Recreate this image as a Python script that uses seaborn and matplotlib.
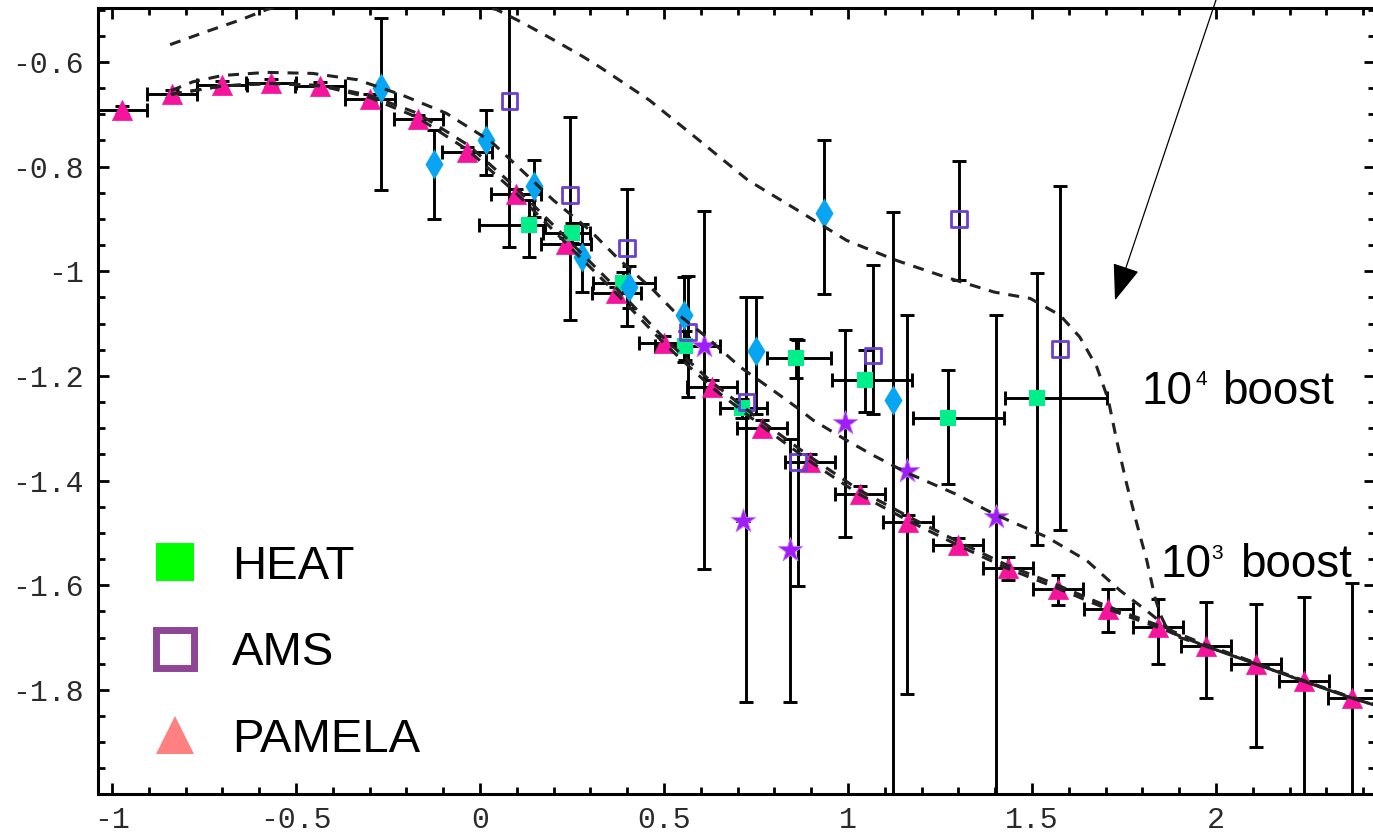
import numpy as np
import matplotlib
matplotlib.use("Agg")
import matplotlib.pyplot as plt
import seaborn as sns
from matplotlib.lines import Line2D
from matplotlib.ticker import MultipleLocator, FuncFormatter

# ---------------- data ----------------
# PAMELA positron fraction (log10), bin centres and bin edges in log10(E)
pamela_x = [-0.973, -0.837, -0.701, -0.568, -0.435, -0.299, -0.168, -0.035, 0.098,
            0.234, 0.370, 0.500, 0.630, 0.766, 0.897, 1.033, 1.163, 1.299, 1.435,
            1.571, 1.707, 1.842, 1.973, 2.109, 2.239, 2.370]
pamela_y = [-0.692, -0.661, -0.645, -0.640, -0.647, -0.670, -0.709, -0.772, -0.853,
            -0.948, -1.042, -1.138, -1.222, -1.299, -1.365, -1.426, -1.480, -1.524,
            -1.568, -1.607, -1.645, -1.680, -1.716, -1.750, -1.783, -1.815]
pamela_halfbin = [0.067] * 26
pamela_err_dn = [0.008, 0.008, 0.008, 0.008, 0.008, 0.008, 0.008, 0.010, 0.010,
                 0.012, 0.012, 0.015, 0.015, 0.015, 0.015, 0.015, 0.015, 0.015,
                 0.022, 0.030, 0.045, 0.070, 0.100, 0.160, 0.600, 0.700]
pamela_err_up = [0.008, 0.008, 0.008, 0.008, 0.008, 0.008, 0.008, 0.010, 0.010,
                 0.012, 0.012, 0.015, 0.015, 0.015, 0.015, 0.015, 0.015, 0.015,
                 0.022, 0.026, 0.038, 0.054, 0.083, 0.115, 0.160, 0.220]

# HEAT
heat_x = [0.134, 0.249, 0.388, 0.557, 0.713, 0.859, 1.045, 1.271, 1.513]
heat_y = [-0.912, -0.927, -1.022, -1.142, -1.262, -1.166, -1.207, -1.280, -1.242]
heat_xlo = [-0.002, 0.172, 0.308, 0.476, 0.652, 0.781, 0.956, 1.177, 1.427]
heat_xhi = [0.177, 0.300, 0.476, 0.651, 0.781, 0.955, 1.173, 1.424, 1.703]
heat_ylo = [-0.973, -0.947, -1.042, -1.170, -1.280, -1.205, -1.269, -1.406, -1.523]
heat_yhi = [-0.864, -0.907, -1.002, -1.115, -1.245, -1.130, -1.151, -1.188, -1.003]

# AMS
ams_x = [0.080, 0.245, 0.400, 0.566, 0.724, 0.865, 1.069, 1.302, 1.576]
ams_y = [-0.674, -0.854, -0.956, -1.116, -1.250, -1.365, -1.161, -0.901, -1.148]
ams_ylo = [-0.953, -1.094, -1.105, -1.240, -1.824, -1.601, -1.272, -1.017, -1.494]
ams_yhi = [-0.300, -0.705, -0.842, -1.010, -1.049, -1.132, -0.989, -0.789, -0.837]

# other experiment (diamonds)
dia_x = [-0.270, -0.125, 0.017, 0.146, 0.276, 0.406, 0.553, 0.749, 0.936, 1.121]
dia_y = [-0.650, -0.795, -0.750, -0.838, -0.973, -1.030, -1.084, -1.152, -0.888, -1.247]
dia_ylo = [-0.845, -0.900, -0.816, -0.896, -1.040, -1.070, -1.174, -1.272, -1.044, -3.000]
dia_yhi = [-0.516, -0.730, -0.692, -0.788, -0.910, -0.990, -1.011, -1.049, -0.749, -0.887]

# other experiment (stars)
star_x = [0.610, 0.715, 0.843, 0.992, 1.160, 1.401]
star_y = [-1.142, -1.478, -1.532, -1.290, -1.381, -1.470]
star_ylo = [-1.569, -1.478, -1.824, -1.507, -1.808, -3.000]
star_yhi = [-0.885, -1.478, -1.320, -1.113, -1.084, -1.084]

# model curves
bg_x = [-0.84, -0.70, -0.57, -0.43, -0.30, -0.17, -0.03, 0.10, 0.235, 0.37, 0.50, 0.63,
        0.77, 0.90, 1.03, 1.17, 1.30, 1.43, 1.57, 1.70, 1.84, 1.97, 2.11, 2.24, 2.37, 2.44]
bg_y = [-0.662, -0.646, -0.641, -0.646, -0.668, -0.706, -0.770, -0.852, -0.947, -1.042,
        -1.138, -1.222, -1.298, -1.365, -1.426, -1.479, -1.524, -1.567, -1.606, -1.644,
        -1.680, -1.715, -1.750, -1.783, -1.815, -1.830]
alt_y = [-0.662, -0.646, -0.641, -0.645, -0.664, -0.698, -0.760, -0.842, -0.937, -1.032,
         -1.128, -1.212, -1.289, -1.356, -1.418, -1.471, -1.517, -1.561, -1.600, -1.639,
         -1.676, -1.713, -1.749, -1.783, -1.815, -1.830]

b3_x = [-0.84, -0.78, -0.70, -0.58, -0.455, -0.334, -0.213, -0.092, 0.03, 0.199, 0.299,
        0.371, 0.471, 0.525, 0.616, 0.707, 0.797, 0.86, 0.906, 0.996, 1.069, 1.16, 1.29,
        1.40, 1.54, 1.649, 1.739, 1.812, 1.902, 1.97, 2.11, 2.24, 2.37, 2.44]
b3_y = [-0.655, -0.638, -0.626, -0.620, -0.622, -0.634, -0.663, -0.698, -0.752, -0.864,
        -0.922, -0.973, -1.036, -1.075, -1.126, -1.183, -1.228, -1.260, -1.285, -1.323,
        -1.352, -1.385, -1.425, -1.465, -1.508, -1.553, -1.610, -1.649, -1.700, -1.716,
        -1.751, -1.784, -1.816, -1.831]

b4_x = [-0.842, -0.743, -0.652, -0.58, -0.45, -0.27, -0.10, 0.045, 0.118, 0.208, 0.28,
        0.326, 0.46, 0.594, 0.728, 0.862, 0.996, 1.130, 1.264, 1.398, 1.495, 1.576, 1.63,
        1.676, 1.707, 1.73, 1.757, 1.785, 1.812, 1.834, 1.848, 1.87, 1.97, 2.11, 2.24,
        2.37, 2.44]
b4_y = [-0.567, -0.542, -0.520, -0.500, -0.475, -0.462, -0.475, -0.500, -0.526, -0.561,
        -0.590, -0.610, -0.673, -0.749, -0.826, -0.883, -0.941, -0.979, -1.011, -1.040,
        -1.052, -1.084, -1.126, -1.183, -1.245, -1.323, -1.406, -1.483, -1.553, -1.623,
        -1.655, -1.688, -1.716, -1.751, -1.784, -1.816, -1.831]

legend_labels = ["HEAT", "AMS", "PAMELA"]

# ---------------- style ----------------
sns.set_theme(style="ticks")
plt.rcParams["font.family"] = ["Liberation Sans", "DejaVu Sans"]
plt.rcParams["axes.unicode_minus"] = False

PINK = "#f7149c"
GREEN = "#00ef8b"
AMS_C = "#6a40d2"
BLUE = "#08a6f2"
STAR = "#a01ef5"
CURVE = "#222222"
DASH = (0, (3.6, 2.9))

fig = plt.figure(figsize=(13.73, 8.34), dpi=100)
ax = fig.add_axes([98 / 1373, 40 / 834, 1277 / 1373, 786 / 834])
ax.set_xlim(-1.038, 2.432)
ax.set_ylim(-1.999, -0.497)


def asym(c, lo, hi):
    c = np.asarray(c, float)
    return [c - np.asarray(lo, float), np.asarray(hi, float) - c]


bar_kw = dict(fmt="none", ecolor="black", elinewidth=2.1, capsize=4.8, capthick=2.1, zorder=2)

ax.errorbar(pamela_x, pamela_y, yerr=[pamela_err_dn, pamela_err_up], xerr=pamela_halfbin, **bar_kw)
ax.errorbar(heat_x, heat_y, yerr=asym(heat_y, heat_ylo, heat_yhi),
            xerr=asym(heat_x, heat_xlo, heat_xhi), **bar_kw)
ax.errorbar(ams_x, ams_y, yerr=asym(ams_y, ams_ylo, ams_yhi), **bar_kw)
ax.errorbar(dia_x, dia_y, yerr=asym(dia_y, dia_ylo, dia_yhi), **bar_kw)
ax.errorbar(star_x, star_y, yerr=asym(star_y, star_ylo, star_yhi), **bar_kw)

# markers
sns.scatterplot(x=pamela_x, y=pamela_y, marker="^", s=210, color=PINK, edgecolor=PINK,
                linewidth=0.5, ax=ax, zorder=3, legend=False)
sns.scatterplot(x=heat_x, y=heat_y, marker="s", s=125, color=GREEN, edgecolor=GREEN,
                linewidth=0, ax=ax, zorder=3, legend=False)
sns.scatterplot(x=ams_x, y=ams_y, marker="s", s=130, facecolor="none", edgecolor=AMS_C,
                linewidth=2.0, ax=ax, zorder=3, legend=False)
sns.scatterplot(x=dia_x, y=dia_y, marker="d", s=235, color=BLUE, edgecolor=BLUE,
                linewidth=0, ax=ax, zorder=3, legend=False)
sns.scatterplot(x=star_x, y=star_y, marker="*", s=340, color=STAR, edgecolor="#c77dff",
                linewidth=0.6, ax=ax, zorder=3, legend=False)

# model curves
for cx, cy in [(bg_x, bg_y), (bg_x, alt_y), (b3_x, b3_y), (b4_x, b4_y)]:
    sns.lineplot(x=cx, y=cy, sort=False, estimator=None, ax=ax, color=CURVE,
                 linewidth=2.2, linestyle=DASH, zorder=4)

# boost labels
txt = dict(color="black", family="Liberation Sans", va="baseline", ha="left")
sup = dict(color="black", family="Liberation Sans", va="top", ha="left")
ax.text(1.798, -1.253, "10", fontsize=33, **txt)
ax.text(1.943, -1.189, "4", fontsize=15, **sup)
ax.text(2.016, -1.253, "boost", fontsize=33, **txt)
ax.text(1.848, -1.585, "10", fontsize=33, **txt)
ax.text(1.988, -1.521, "3", fontsize=15, **sup)
ax.text(2.065, -1.585, "boost", fontsize=33, **txt)

# arrow pointing at the 10^4 curve
ax.annotate("", xy=(1.7255, -1.0555), xycoords="data",
            xytext=(1216 / 1373, 1.0), textcoords="figure fraction",
            arrowprops=dict(arrowstyle="-|>,head_length=1.15,head_width=0.43",
                            mutation_scale=20, color="black", lw=0.9,
                            shrinkA=0, shrinkB=0),
            annotation_clip=False)

# legend
handles = [
    Line2D([], [], ls="none", marker="s", ms=27, mfc="#00ff00", mec="#00ff00", mew=0),
    Line2D([], [], ls="none", marker="s", ms=27, mfc="none", mec="#8e4595", mew=5),
    Line2D([], [], ls="none", marker="^", ms=27, mfc="#ff8080", mec="#ff8080", mew=0),
]
ax.legend(handles, legend_labels, loc="upper left", bbox_to_anchor=(0.042, 0.317),
          frameon=False, fontsize=34, handlelength=1.0, handletextpad=0.71,
          labelspacing=0.9, borderpad=0, borderaxespad=0, labelcolor="black")

# axes and ticks
def tick_fmt(v, pos):
    s = "%g" % round(v, 6)
    return "0" if s in ("-0", "0") else s


fmt = FuncFormatter(tick_fmt)
ax.xaxis.set_major_locator(MultipleLocator(0.5))
ax.xaxis.set_minor_locator(MultipleLocator(0.1))
ax.yaxis.set_major_locator(MultipleLocator(0.2))
ax.yaxis.set_minor_locator(MultipleLocator(0.05))
ax.xaxis.set_major_formatter(fmt)
ax.yaxis.set_major_formatter(fmt)
ax.tick_params(which="both", direction="in", top=True, right=True, width=2.0, color="black")
ax.tick_params(which="major", length=8)
ax.tick_params(which="minor", length=5)
ax.tick_params(axis="both", labelsize=21.5, labelcolor="#2a2a2a", labelfontfamily="Liberation Mono")
ax.tick_params(axis="x", pad=9)
ax.tick_params(axis="y", pad=10)
for s in ax.spines.values():
    s.set_linewidth(2.2)
    s.set_color("black")
ax.set_xlabel("")
ax.set_ylabel("")

fig.savefig("out.png", dpi=100)
